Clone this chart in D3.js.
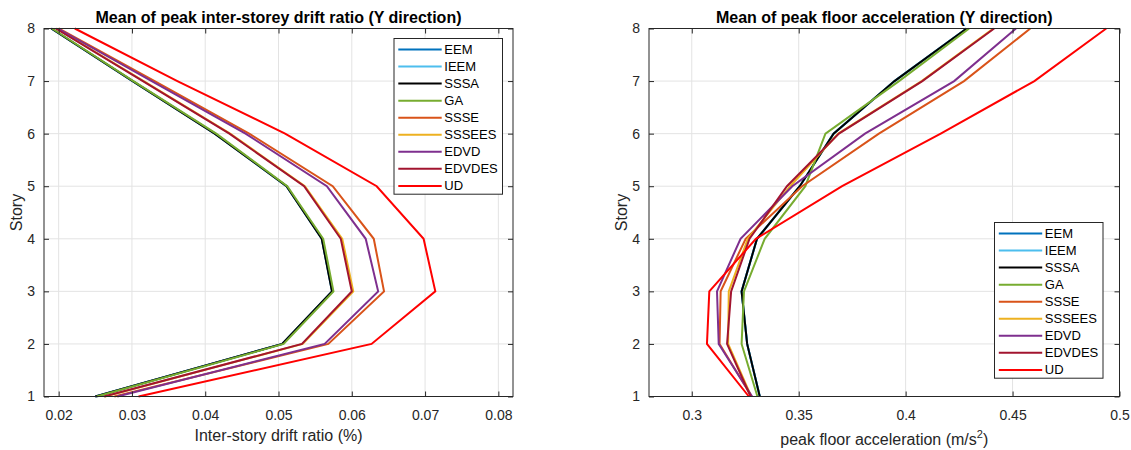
<!DOCTYPE html>
<html>
<head>
<meta charset="utf-8">
<script src="https://cdn.jsdelivr.net/npm/d3@7"></script>
<style>
  body { margin: 0; background: #fff; }
  svg { font-family: "Liberation Sans", Arial, sans-serif; }
</style>
</head>
<body>
<script>
const stories = [1, 2, 3, 4, 5, 6, 7, 8]
const methods = ["EEM", "IEEM", "SSSA", "GA", "SSSE", "SSSEES", "EDVD", "EDVDES", "UD"]
const colors = ["#0072BD", "#4DBEEE", "#000000", "#77AC30", "#D95319", "#EDB120", "#7E2F8E", "#A2142F", "#FF0000"]

// inter-storey drift ratio (%) per story 1..8
const driftEEM    = [0.0250, 0.0505, 0.0573, 0.0559, 0.0511, 0.0413, 0.0301, 0.0190]
const driftIEEM   = [0.0251, 0.0506, 0.0574, 0.0560, 0.0511, 0.0414, 0.0301, 0.0190]
const driftSSSA   = [0.0250, 0.0505, 0.0573, 0.0559, 0.0511, 0.0413, 0.0301, 0.0190]
const driftGA     = [0.0252, 0.0507, 0.0575, 0.0561, 0.0512, 0.0415, 0.0302, 0.0191]
const driftSSSE   = [0.0276, 0.0568, 0.0644, 0.0630, 0.0574, 0.0460, 0.0331, 0.0200]
const driftSSSEES = [0.0263, 0.0533, 0.0602, 0.0587, 0.0536, 0.0434, 0.0316, 0.0197]
const driftEDVD   = [0.0280, 0.0563, 0.0636, 0.0619, 0.0566, 0.0455, 0.0327, 0.0199]
const driftEDVDES = [0.0262, 0.0532, 0.0600, 0.0585, 0.0535, 0.0433, 0.0315, 0.0196]
const driftUD     = [0.0309, 0.0627, 0.0714, 0.0698, 0.0634, 0.0509, 0.0362, 0.0222]

// peak floor acceleration (m/s2) per story 1..8
const accEEM    = [0.3318, 0.3259, 0.3233, 0.3305, 0.3505, 0.3663, 0.3948, 0.4285]
const accIEEM   = [0.3318, 0.3259, 0.3233, 0.3305, 0.3505, 0.3663, 0.3948, 0.4285]
const accSSSA   = [0.3318, 0.3259, 0.3233, 0.3305, 0.3505, 0.3663, 0.3948, 0.4285]
const accGA     = [0.3307, 0.3233, 0.3244, 0.3341, 0.3531, 0.3625, 0.3969, 0.4297]
const accSSSE   = [0.3280, 0.3130, 0.3135, 0.3252, 0.3516, 0.3875, 0.4273, 0.4583]
const accSSSEES = [0.3278, 0.3170, 0.3173, 0.3262, 0.3460, 0.3685, 0.4075, 0.4410]
const accEDVD   = [0.3282, 0.3126, 0.3118, 0.3228, 0.3470, 0.3810, 0.4227, 0.4516]
const accEDVDES = [0.3275, 0.3165, 0.3184, 0.3270, 0.3445, 0.3688, 0.4078, 0.4414]
const accUD     = [0.3267, 0.3071, 0.3082, 0.3300, 0.3703, 0.4164, 0.4602, 0.4938]

const driftTicks = [0.02, 0.03, 0.04, 0.05, 0.06, 0.07, 0.08]
const accTicks = [0.3, 0.35, 0.4, 0.45, 0.5]
const storyTicks = [1, 2, 3, 4, 5, 6, 7, 8]

const driftSeries = [driftEEM, driftIEEM, driftSSSA, driftGA, driftSSSE, driftSSSEES, driftEDVD, driftEDVDES, driftUD]
const accSeries = [accEEM, accIEEM, accSSSA, accGA, accSSSE, accSSSEES, accEDVD, accEDVDES, accUD]

const svgWidth = 1131
const svgHeight = 450
const axisColor = "#262626"

const svg = d3.select("body").append("svg")
    .attr("width", svgWidth)
    .attr("height", svgHeight)

function drawPanel(p) {
  const w = p.right - p.left
  const h = p.bottom - p.top
  const g = svg.append("g").attr("transform", `translate(${p.left}, ${p.top})`)

  const x = d3.scaleLinear().domain(p.xDomain).range([0, w])
  const y = d3.scaleLinear().domain([1, 8]).range([h, 0])

  // grid
  g.append("g").selectAll("line").data(p.xTicks).enter().append("line")
    .attr("x1", d => x(d)).attr("x2", d => x(d))
    .attr("y1", 0).attr("y2", h)
    .attr("stroke", "#e3e3e3").attr("stroke-width", 1)
  g.append("g").selectAll("line").data(storyTicks).enter().append("line")
    .attr("y1", d => y(d)).attr("y2", d => y(d))
    .attr("x1", 0).attr("x2", w)
    .attr("stroke", "#e3e3e3").attr("stroke-width", 1)

  // lines
  const line = d3.line()
    .x(d => x(d[0]))
    .y(d => y(d[1]))

  p.series.forEach((vals, i) => {
    g.append("path")
      .datum(vals.map((v, k) => [v, stories[k]]))
      .attr("fill", "none")
      .attr("stroke", colors[i])
      .attr("stroke-width", 2)
      .attr("d", line)
  })

  // axes, ticks pointing inwards on all sides
  const styleAxis = sel => {
    sel.select(".domain").remove()
    sel.selectAll(".tick line").attr("stroke", axisColor)
    sel.selectAll(".tick text").attr("fill", axisColor).style("font-size", "14px")
  }
  g.append("g").attr("transform", `translate(0, ${h})`)
    .call(d3.axisBottom(x).tickValues(p.xTicks).tickFormat(d => String(d)).tickSizeInner(-5).tickPadding(13.5))
    .call(styleAxis)
  g.append("g")
    .call(d3.axisTop(x).tickValues(p.xTicks).tickFormat("").tickSizeInner(-5))
    .call(styleAxis)
  g.append("g")
    .call(d3.axisLeft(y).tickValues(storyTicks).tickFormat(d3.format("d")).tickSizeInner(-5).tickPadding(9))
    .call(styleAxis)
  g.append("g").attr("transform", `translate(${w}, 0)`)
    .call(d3.axisRight(y).tickValues(storyTicks).tickFormat("").tickSizeInner(-5))
    .call(styleAxis)

  g.append("rect")
    .attr("width", w).attr("height", h)
    .attr("fill", "none").attr("stroke", axisColor).attr("stroke-width", 1)

  // title and labels
  g.append("text")
    .attr("x", w / 2).attr("y", -5.5)
    .attr("text-anchor", "middle")
    .style("font-size", "16px").style("font-weight", "bold")
    .attr("fill", "#000")
    .text(p.title)

  g.append("text")
    .attr("transform", `translate(${p.yLabelX - p.left}, ${h / 2}) rotate(-90)`)
    .attr("text-anchor", "middle")
    .style("font-size", "16px")
    .attr("fill", axisColor)
    .text("Story")

  const xl = g.append("text")
    .attr("x", w / 2).attr("y", h + p.xLabelDy)
    .attr("text-anchor", "middle")
    .style("font-size", "16px")
    .attr("fill", axisColor)
  p.xLabel(xl)

  // legend
  const lg = svg.append("g").attr("transform", `translate(${p.legend.x}, ${p.legend.y})`)
  const rowH = 17.05
  lg.append("rect")
    .attr("width", 108.5).attr("height", 155.7)
    .attr("fill", "#fff").attr("stroke", axisColor).attr("stroke-width", 1)
  methods.forEach((m, i) => {
    const cy = 11 + i * rowH
    lg.append("line")
      .attr("x1", 4.3).attr("x2", 47.7).attr("y1", cy).attr("y2", cy)
      .attr("stroke", colors[i]).attr("stroke-width", 2)
    lg.append("text")
      .attr("x", 50.3).attr("y", cy + 4.3)
      .style("font-size", "13px")
      .attr("fill", "#000")
      .text(m)
  })
}

drawPanel({
  left: 44, right: 513, top: 28.5, bottom: 396.5,
  xDomain: [0.018, 0.082], xTicks: driftTicks,
  series: driftSeries,
  title: "Mean of peak inter-storey drift ratio (Y direction)",
  yLabelX: 22,
  xLabelDy: 44,
  xLabel: t => t.text("Inter-story drift ratio (%)"),
  legend: { x: 394, y: 38.5 }
})

drawPanel({
  left: 649, right: 1119.5, top: 28.5, bottom: 396.5,
  xDomain: [0.28, 0.5], xTicks: accTicks,
  series: accSeries,
  title: "Mean of peak floor acceleration (Y direction)",
  yLabelX: 627,
  xLabelDy: 48,
  xLabel: t => {
    t.append("tspan").text("peak floor acceleration (m/s")
    t.append("tspan").attr("dy", -7).style("font-size", "11px").text("2")
    t.append("tspan").attr("dy", 7).text(")")
  },
  legend: { x: 994.5, y: 222.5 }
})
</script>
</body>
</html>
